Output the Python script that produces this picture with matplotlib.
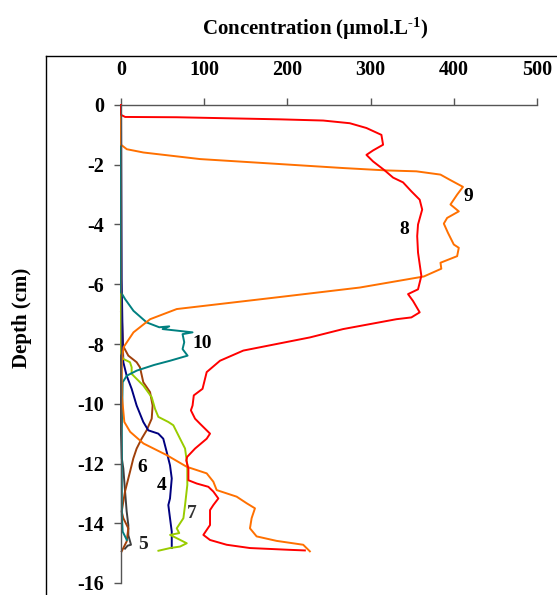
import matplotlib
matplotlib.use("Agg")
import matplotlib.pyplot as plt
from matplotlib.lines import Line2D

plt.rcParams['font.family'] = ['Liberation Serif', 'DejaVu Serif']
plt.rcParams['font.weight'] = 'bold'
plt.rcParams['mathtext.fontset'] = 'custom'
plt.rcParams['mathtext.rm'] = 'Liberation Serif:bold'
plt.rcParams['mathtext.it'] = 'Liberation Serif:bold'
plt.rcParams['mathtext.bf'] = 'Liberation Serif:bold'

# ---- data (concentration µmol/L, depth cm) ----
c8 = [0, 0, 5, 67, 191, 243, 275, 295, 313, 315, 303, 295, 303, 317, 327, 339, 349, 359, 362, 357,
      356, 357, 361, 357, 345, 351, 359, 349, 331, 267, 227, 187, 147, 119, 103, 98, 87.5, 86, 84,
      89, 95, 107, 103, 89, 79.5, 78.5, 81, 81, 91, 105, 111, 117, 111, 107, 107, 107, 99, 107, 127,
      155, 203, 221]
d8 = [0, -0.33, -0.4, -0.41, -0.48, -0.52, -0.61, -0.77, -1.0, -1.33, -1.52, -1.67, -1.89, -2.19,
      -2.43, -2.59, -2.89, -3.17, -3.5, -4.0, -4.39, -4.94, -5.72, -6.17, -6.33, -6.56, -6.94, -7.11,
      -7.17, -7.5, -7.78, -8.0, -8.22, -8.56, -8.94, -9.5, -9.72, -10.06, -10.22, -10.5, -10.67,
      -11.0, -11.17, -11.5, -11.78, -11.9, -12.17, -12.56, -12.67, -12.78, -12.94, -13.17, -13.39,
      -13.56, -13.83, -14.06, -14.39, -14.56, -14.72, -14.83, -14.89, -14.91]

c9 = [0, 0, 7, 27, 95, 187, 267, 319, 355, 384, 395, 411, 404, 396, 406, 392, 388, 393, 400, 406,
      404, 384, 385, 364, 287, 187, 107, 67, 35, 15, 3, 1, 1, 4, 11, 27, 55, 79, 103, 111, 115, 139,
      151, 161, 157, 155, 163, 187, 219, 227]
d9 = [0, -1.33, -1.48, -1.59, -1.81, -1.97, -2.11, -2.19, -2.22, -2.33, -2.5, -2.74, -3.0, -3.33,
      -3.56, -3.78, -3.97, -4.28, -4.67, -4.78, -5.06, -5.28, -5.48, -5.74, -6.11, -6.44, -6.7,
      -6.83, -7.17, -7.61, -8.11, -8.6, -9.72, -10.61, -10.94, -11.33, -11.72, -12.11, -12.33,
      -12.61, -12.89, -13.11, -13.33, -13.5, -13.83, -14.17, -14.44, -14.59, -14.72, -14.94]

c10 = [0, 0, 5, 15, 31, 46, 58, 50, 86, 74, 76, 74, 80, 59, 40, 19, 7, 2, 1, 1, 2, 7]
d10 = [0, -6.27, -6.5, -6.89, -7.28, -7.44, -7.41, -7.5, -7.61, -7.67, -7.94, -8.17, -8.39, -8.56,
       -8.7, -8.89, -9.06, -9.28, -10.83, -13.72, -14.28, -14.56]

c7 = [0, 0, 2.8, 10.8, 12.8, 12.8, 26.8, 36.9, 40.9, 44.9, 56.9, 62.9, 71, 77, 79.7, 79.7, 77, 75,
      67, 70, 59, 67, 79, 71, 59, 45]
d7 = [-6.3, -8.3, -8.5, -8.61, -8.78, -9.0, -9.39, -9.78, -10.17, -10.44, -10.61, -10.72, -11.17,
      -11.5, -12.06, -12.72, -13.39, -13.83, -14.17, -14.33, -14.39, -14.5, -14.67, -14.78, -14.83,
      -14.92]

c4 = [0, 0.8, 2, 2.8, 6.8, 12.8, 18.8, 26.8, 32.8, 44.8, 50.8, 54.9, 58.9, 61, 58.9, 56.9, 58.9,
      61, 61]
d4 = [0, -5.83, -7.83, -8.61, -9.06, -9.5, -10.06, -10.61, -10.89, -11.0, -11.17, -11.61, -12.06,
      -12.5, -13.17, -13.39, -13.83, -14.28, -14.83]

c6 = [0, 1, 2.4, 8.8, 18.8, 22.8, 26.8, 34.9, 38, 36.9, 30.8, 24.8, 18.8, 14.8, 10.8, 4.8, 0.8, 2.8,
      8.8, 6.8, 2.8, 0.8]
d6 = [-6.94, -7.1, -8.06, -8.39, -8.61, -8.78, -9.28, -9.61, -10.06, -10.5, -10.89, -11.17, -11.5,
      -11.83, -12.28, -12.94, -13.61, -13.83, -14.17, -14.61, -14.83, -14.94]

c5 = [0, 0, 1, 2.8, 4.8, 6.8, 8.8, 8.8, 12, 8, 4.8]
d5 = [0, -11.0, -11.83, -12.17, -12.9, -13.6, -14.06, -14.4, -14.72, -14.75, -14.85]

series = [
    ('5', c5, d5, '#3f3f3f'),
    ('6', c6, d6, '#a0400a'),
    ('4', c4, d4, '#000080'),
    ('7', c7, d7, '#99cc00'),
    ('10', c10, d10, '#008080'),
    ('9', c9, d9, '#ff7000'),
    ('8', c8, d8, '#ff0000'),
]

label_names = ['9', '8', '10', '6', '4', '7', '5']
label_x = [417, 341, 97, 25, 49, 85, 26]
label_y = [-3.06, -4.17, -8.0, -12.14, -12.72, -13.67, -14.7]
label_colors = ['black', 'black', 'black', 'black', 'black', '#333333', '#222222']

xticks = [0, 100, 200, 300, 400, 500]
yticks = [0, -2, -4, -6, -8, -10, -12, -14, -16]
ytick_labels = ['0', '-2', '-4', '-6', '-8', '-10', '-12', '-14', '-16']

W, H = 557, 595
fig = plt.figure(figsize=(W / 100, H / 100), dpi=100)
ax = fig.add_axes([121 / W, (H - 583) / H, 416 / W, 478 / H])
ax.set_facecolor('none')

for name, c, d, col in series:
    ax.plot(c, d, color=col, lw=1.4, solid_joinstyle='round', clip_on=False)

for t, x, y, col in zip(label_names, label_x, label_y, label_colors):
    ax.text(x, y, t, ha='center', va='center', fontsize=14, fontweight='bold', color=col)

ax.set_xlim(0, 500)
ax.set_ylim(-16, 0)
ax.xaxis.tick_top()
ax.set_xticks(xticks)
ax.set_xticklabels([str(v) for v in xticks])
ax.set_yticks(yticks)
ax.set_yticklabels(ytick_labels)
for s in ['right', 'bottom']:
    ax.spines[s].set_visible(False)
for s in ['left', 'top']:
    ax.spines[s].set_color('#555555')
    ax.spines[s].set_linewidth(1.0)
ax.tick_params(axis='x', direction='out', length=5, width=1, color='#555555',
               pad=13, labelsize=14.5)
ax.tick_params(axis='y', direction='out', length=5, width=1, color='#555555',
               pad=7, labelsize=14.5)
for lab in ax.get_xticklabels() + ax.get_yticklabels():
    lab.set_fontweight('bold')

# outer plot-area frame
fig.add_artist(Line2D([46 / W, 1.0], [1 - 56 / H, 1 - 56 / H], transform=fig.transFigure,
                      color='black', lw=1.0))
fig.add_artist(Line2D([46 / W, 46 / W], [0, 1 - 56 / H], transform=fig.transFigure,
                      color='black', lw=1.0))

fig.text(315 / W, 1 - 29 / H, r'Concentration (µmol.L$^{\text{-1}}$)', ha='center', va='center',
         fontsize=15, fontweight='bold')
fig.text(22 / W, 1 - 318 / H, 'Depth (cm)', ha='center', va='center', rotation=90,
         fontsize=15, fontweight='bold')

fig.savefig('out.png', dpi=100, facecolor='white')
